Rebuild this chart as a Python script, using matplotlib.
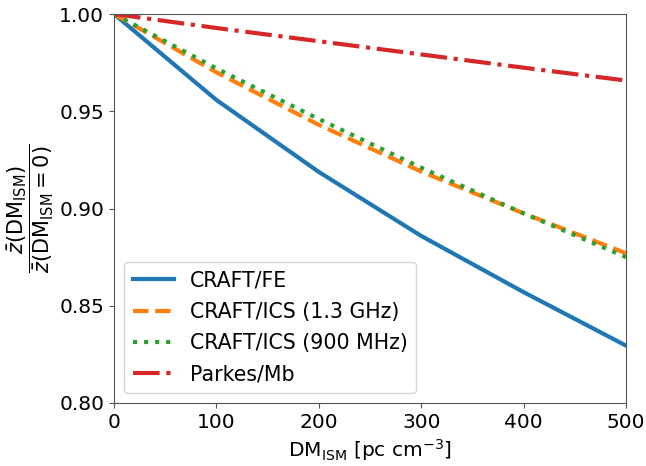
import numpy as np
import matplotlib
matplotlib.use("Agg")
import matplotlib.pyplot as plt
from matplotlib.ticker import FormatStrFormatter

dm = [0, 100, 200, 300, 400, 500]
craft_fe = [1.0, 0.9558, 0.9188, 0.8859, 0.8570, 0.8295]
craft_ics_13 = [1.0, 0.9700, 0.9430, 0.9190, 0.8975, 0.8770]
craft_ics_900 = [1.0, 0.9720, 0.9460, 0.9210, 0.8975, 0.8750]
parkes_mb = [1.0, 0.9928, 0.9860, 0.9792, 0.9724, 0.9658]

plt.rcParams['font.size'] = 14.5
fig = plt.figure(figsize=(6.46, 4.66), dpi=100)
ax = fig.add_axes([114 / 646, 63 / 466, 512 / 646, 389 / 466])

ax.plot(dm, craft_fe, color='tab:blue', lw=3, ls='-', label='CRAFT/FE')
ax.plot(dm, craft_ics_13, color='tab:orange', lw=3, ls='--', label='CRAFT/ICS (1.3 GHz)')
ax.plot(dm, craft_ics_900, color='tab:green', lw=3, ls=':', label='CRAFT/ICS (900 MHz)')
ax.plot(dm, parkes_mb, color='tab:red', lw=3, ls='-.', label='Parkes/Mb')

ax.set_xlim(0, 500)
ax.set_ylim(0.80, 1.00)
ax.set_xticks([0, 100, 200, 300, 400, 500])
ax.set_yticks([0.80, 0.85, 0.90, 0.95, 1.00])
ax.yaxis.set_major_formatter(FormatStrFormatter('%.2f'))
for s in ax.spines.values():
    s.set_color('#555555')
ax.tick_params(color='#555555')

ax.set_xlabel(r'DM$_{\rm ISM}$ [pc cm$^{-3}$]')
ax.set_ylabel(r'$\dfrac{\bar{z}({\rm DM_{ISM}})}{\bar{z}({\rm DM_{ISM}}=0)}$', fontsize=15, labelpad=2)
ax.legend(loc='lower left', fontsize=14.8, labelspacing=0.55)

fig.savefig('out.png', dpi=100)
